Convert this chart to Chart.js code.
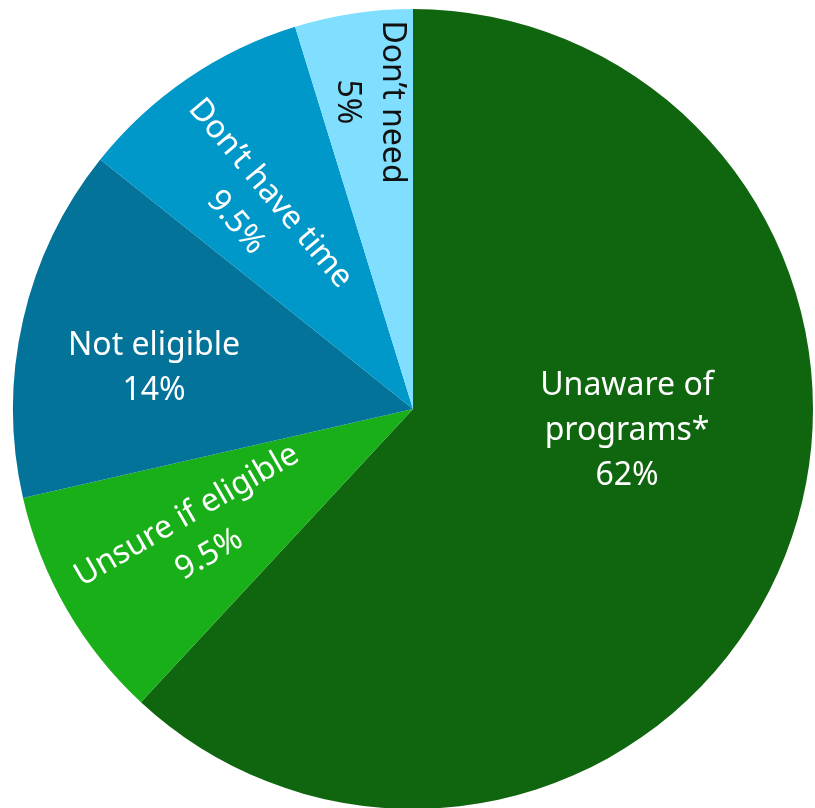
<!DOCTYPE html>
<html>
<head>
<meta charset="utf-8">
<script src="https://cdn.jsdelivr.net/npm/chart.js@4"></script>
<style>
  html, body { margin: 0; padding: 0; background: #fff; overflow: hidden; }
  #wrap { width: 815px; height: 810px; }
</style>
</head>
<body>
<div id="wrap"><canvas id="pie"></canvas></div>
<script>
// data, clockwise from 12 o'clock
// slice angles fit 13, 2, 3, 2 and 1 responses out of 21
const categories = ['Unaware of\nprograms*', 'Unsure if eligible', 'Not eligible', 'Don\u2019t have time', 'Don\u2019t need'];
const responses = [13, 2, 3, 2, 1];
const shareLabels = ['62%', '9.5%', '14%', '9.5%', '5%'];

const sliceColors = ['#10660f', '#18af18', '#03739a', '#0097c9', '#80dfff'];
const textColors = ['#fff', '#fff', '#fff', '#fff', '#111'];

// label placement: offset from centre in units of radius, and rotation in degrees
const labelLayout = [
  { dx: 0.535, dy: 0.055, rot: 0 },
  { dx: -0.5375, dy: 0.315, rot: -30 },
  { dx: -0.6475, dy: -0.1025, rot: 0 },
  { dx: -0.40, dy: -0.5025, rot: 50 },
  { dx: -0.1075, dy: -0.7675, rot: 90 },
];

const sliceLabels = {
  id: 'sliceLabels',
  afterDatasetsDraw(chart) {
    const { ctx } = chart;
    const meta = chart.getDatasetMeta(0);
    ctx.save();
    ctx.font = '32px "Noto Sans", sans-serif';
    ctx.textAlign = 'center';
    ctx.textBaseline = 'middle';
    meta.data.forEach((arc, i) => {
      const r = arc.outerRadius;
      const pos = labelLayout[i];
      const lines = categories[i].split('\n').concat(shareLabels[i]);
      const lh = 45;
      ctx.save();
      ctx.translate(arc.x + pos.dx * r, arc.y + pos.dy * r);
      ctx.rotate(pos.rot * Math.PI / 180);
      ctx.fillStyle = textColors[i];
      lines.forEach((line, j) => {
        ctx.fillText(line, 0, (j - (lines.length - 1) / 2) * lh);
      });
      ctx.restore();
    });
    ctx.restore();
  }
};

new Chart(document.getElementById('pie'), {
  type: 'pie',
  data: {
    labels: categories,
    datasets: [{
      data: responses,
      backgroundColor: sliceColors,
      borderWidth: 0,
    }],
  },
  options: {
    responsive: true,
    maintainAspectRatio: false,
    animation: false,
    layout: { padding: { left: 13, right: 2, top: 9, bottom: 1 } },
    plugins: {
      legend: { display: false },
      tooltip: { enabled: false },
    },
  },
  plugins: [sliceLabels],
});
</script>
</body>
</html>
